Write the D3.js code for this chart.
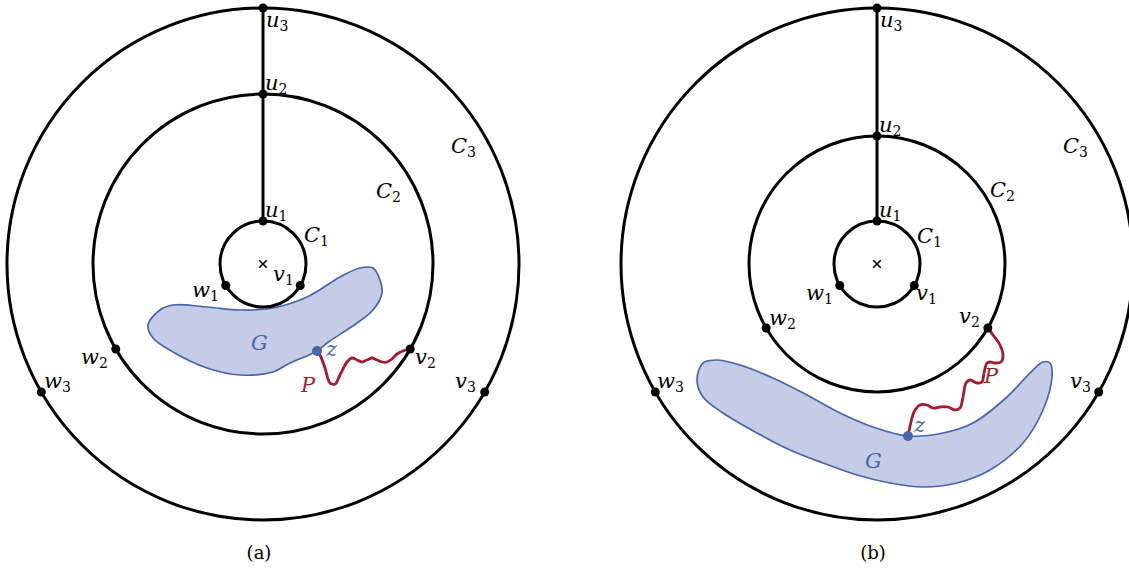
<!DOCTYPE html>
<html>
<head>
<meta charset="utf-8">
<script src="https://cdn.jsdelivr.net/npm/d3@7"></script>
<style>
  html, body { margin: 0; padding: 0; background: #fff; }
</style>
</head>
<body>
<svg id="fig" width="1129" height="570"></svg>
<script>
// ring radii of C1, C2, C3 (units relative to panel centre)
const ringRadiiA = [43, 170, 256];
const ringRadiiB = [43, 128, 256];
// vertices u, v, w sit on every ring at these angles (degrees)
const vertexNames = ['u', 'v', 'w'];
const vertexAngles = [90, -30, 210];
// outline of the blob G
const blobA = [[-115,61],[-103,46],[-90,41],[-56,43],[-23,46],[10,44],[44,33],[77,13],[97,4],[110,4],
  [117,16],[119,29],[110,46],[94,59],[64,79],[54,87],[27,99],[10,108],[-23,111],[-56,104],[-90,88],[-110,74]];
const blobB = [[-180,116],[-174,99],[-160,96],[-137,101],[-104,114],[-70,131],[-37,149],[-4,163],[31,172],
  [66,169],[96,159],[130,133],[153,109],[166,98],[173,99],[175,113],[166,146],[146,179],[113,206],[80,219],
  [46,223],[13,219],[-20,211],[-54,199],[-87,186],[-120,169],[-154,149],[-174,133]];
const zA = [54, 87];
const zB = [31, 172];
// wiggly path P from z to v2
const pathA = [[54,87],[57,91],[62,104],[67,119],[72,120],[77,111],[84,98],[89,94],[94,96],[99,98],[104,96],
  [109,94],[114,96],[119,98],[124,98],[129,95],[134,90],[140,87],[147,85]];
const pathB = [[111,64],[116,71],[123,81],[126,91],[124,98],[118,99],[113,98],[110,99],[107,109],[105,118],
  [100,119],[93,116],[89,119],[86,133],[83,144],[78,146],[71,143],[63,143],[56,144],[50,141],[43,141],
  [37,148],[34,158],[31,172]];
const captions = ['(a)', '(b)'];

// label anchors (text start, baseline), relative to panel centre
const labelPosA = {
  u3:[3,-237], u2:[2,-174], u1:[2,-47], v1:[10,17], w1:[-71,33], v2:[152,100], w2:[-182,100],
  v3:[192,124], w3:[-219,124], C1:[41,-22], C2:[113,-66], C3:[188,-111], z:[63,92], G:[-12,86], P:[38,128]
};
const labelPosB = {
  u3:[3,-237], u2:[2,-132], u1:[2,-47], v1:[39,36], w1:[-71,36], v2:[82,59], w2:[-108,61],
  v3:[193,124], w3:[-220,124], C1:[40,-21], C2:[113,-67], C3:[186,-111], z:[37,168], G:[-12,204], P:[107,119]
};

const panels = [
  { cx: 263, cy: 264, radii: ringRadiiA, blob: blobA, z: zA, path: pathA, labels: labelPosA, cap: captions[0] },
  { cx: 877, cy: 264, radii: ringRadiiB, blob: blobB, z: zB, path: pathB, labels: labelPosB, cap: captions[1] }
];

const BLACK = '#000', BLUE = '#4665ad', BLUEFILL = '#c5cde6', RED = '#a51b2d';
const svg = d3.select('#fig');

panels.forEach(p => {
  const x = d3.scaleLinear().domain([-256, 256]).range([p.cx - 256, p.cx + 256]);
  const y = d3.scaleLinear().domain([-256, 256]).range([p.cy - 256, p.cy + 256]);
  const k = x(1) - x(0);
  const g = svg.append('g');
  const polar = (r, a) => [r * Math.cos(a * Math.PI / 180), -r * Math.sin(a * Math.PI / 180)];

  // blob G
  const closed = d3.line().x(d => x(d[0])).y(d => y(d[1])).curve(d3.curveCatmullRomClosed.alpha(0.5));
  g.append('path').attr('d', closed(p.blob))
    .attr('fill', BLUEFILL).attr('stroke', BLUE).attr('stroke-width', 1.7);

  // rings
  g.selectAll('circle.ring').data(p.radii).join('circle')
    .attr('class', 'ring')
    .attr('cx', x(0)).attr('cy', y(0)).attr('r', d => d * k)
    .attr('fill', 'none').attr('stroke', BLACK).attr('stroke-width', 3);

  // spoke from u1 to u3
  const u1 = polar(p.radii[0], 90), u3 = polar(p.radii[2], 90);
  g.append('line')
    .attr('x1', x(u1[0])).attr('y1', y(u1[1])).attr('x2', x(u3[0])).attr('y2', y(u3[1]))
    .attr('stroke', BLACK).attr('stroke-width', 3);

  // path P
  const open = d3.line().x(d => x(d[0])).y(d => y(d[1])).curve(d3.curveCatmullRom.alpha(0.5));
  g.append('path').attr('d', open(p.path))
    .attr('fill', 'none').attr('stroke', RED).attr('stroke-width', 2.8).attr('stroke-linejoin', 'round');

  // vertices
  const verts = [];
  p.radii.forEach(r => vertexAngles.forEach(a => verts.push(polar(r, a))));
  g.selectAll('circle.v').data(verts).join('circle')
    .attr('class', 'v')
    .attr('cx', d => x(d[0])).attr('cy', d => y(d[1])).attr('r', 4.5).attr('fill', BLACK);

  g.append('circle').attr('cx', x(p.z[0])).attr('cy', y(p.z[1])).attr('r', 5).attr('fill', BLUE);

  // centre cross
  const c = 3.8;
  [[-c, -c, c, c], [-c, c, c, -c]].forEach(s => {
    g.append('line')
      .attr('x1', x(0) + s[0]).attr('y1', y(0) + s[1]).attr('x2', x(0) + s[2]).attr('y2', y(0) + s[3])
      .attr('stroke', BLACK).attr('stroke-width', 1.6);
  });

  // labels
  const labelColor = n => n === 'z' || n === 'G' ? BLUE : n === 'P' ? RED : BLACK;
  Object.entries(p.labels).forEach(([name, pos]) => {
    const t = g.append('text')
      .attr('x', x(pos[0])).attr('y', y(pos[1])).attr('fill', labelColor(name))
      .attr('font-family', 'DejaVu Serif').attr('font-style', 'italic').attr('font-size', 21);
    t.append('tspan').text(name[0]);
    if (name.length > 1) {
      t.append('tspan').text(name.slice(1))
        .attr('font-style', 'normal').attr('font-size', 14).attr('dy', 4);
    }
  });

  g.append('text')
    .attr('font-family', 'DejaVu Serif').attr('font-size', 18)
    .attr('x', x(-4)).attr('y', 559).attr('text-anchor', 'middle').text(p.cap);
});
</script>
</body>
</html>
